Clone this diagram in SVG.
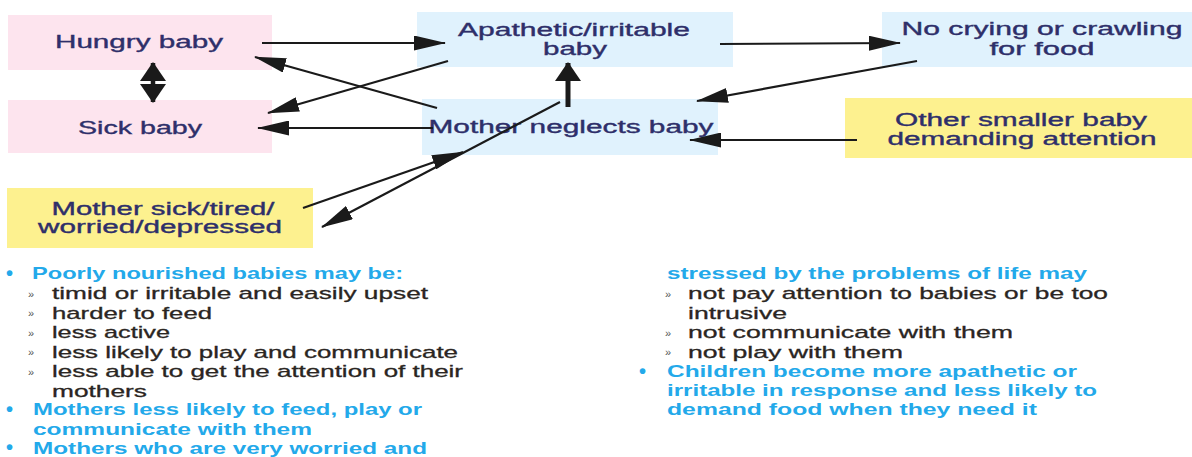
<svg xmlns="http://www.w3.org/2000/svg" width="1192" height="457" viewBox="0 0 1192 457">
<style>
.pink{fill:#fde4ee}
.blue{fill:#e0f2fd}
.yel{fill:#fdf18f}
.nt{font-family:"Liberation Sans",Arial,sans-serif;font-size:17.5px;fill:#2e2f6a;stroke:#2e2f6a;stroke-width:0.35;text-anchor:middle}
.h{font-family:"Liberation Sans",Arial,sans-serif;font-size:16.5px;font-weight:bold;fill:#23a9ea}
.s{font-family:"Liberation Sans",Arial,sans-serif;font-size:17px;fill:#2a2522;stroke:#2a2522;stroke-width:0.3}
.bul{font-family:"Liberation Sans",Arial,sans-serif;font-size:20px;font-weight:bold;fill:#23a9ea}
.rq{font-family:"Liberation Sans",Arial,sans-serif;font-size:11px;fill:#555}
.c{stroke:#1a1a1a;stroke-width:2.2;fill:none;marker-end:url(#ah)}
</style>
<defs>
<marker id="ah" markerUnits="userSpaceOnUse" markerWidth="32" markerHeight="15" viewBox="0 0 32 15" refX="31" refY="7.5" orient="auto">
<path d="M0,0 L32,7.5 L0,15 z" fill="#1a1a1a"/>
</marker>
<marker id="aw" markerUnits="userSpaceOnUse" markerWidth="19" markerHeight="26" viewBox="0 0 19 26" refX="18" refY="13" orient="auto-start-reverse">
<path d="M0,0 L19,13 L0,26 z" fill="#1a1a1a"/>
</marker>
</defs>

<g id="hungry">
<rect class="pink" x="8" y="15" width="264" height="55"/>
<text class="nt" x="139" y="48" textLength="168" lengthAdjust="spacingAndGlyphs">Hungry baby</text>
</g>
<g id="sick">
<rect class="pink" x="8" y="100" width="264" height="53"/>
<text class="nt" x="140" y="134" textLength="124" lengthAdjust="spacingAndGlyphs">Sick baby</text>
</g>
<g id="apathetic">
<rect class="blue" x="417" y="12" width="316" height="55"/>
<text class="nt" x="574" y="36" textLength="232" lengthAdjust="spacingAndGlyphs">Apathetic/irritable</text>
<text class="nt" x="575" y="55" textLength="64" lengthAdjust="spacingAndGlyphs">baby</text>
</g>
<g id="nocrying">
<rect class="blue" x="882" y="12" width="310" height="55"/>
<text class="nt" x="1042" y="35" textLength="281" lengthAdjust="spacingAndGlyphs">No crying or crawling</text>
<text class="nt" x="1042" y="55" textLength="105" lengthAdjust="spacingAndGlyphs">for food</text>
</g>
<g id="neglects">
<rect class="blue" x="422" y="99" width="296" height="56"/>
<text class="nt" x="571" y="133" textLength="285" lengthAdjust="spacingAndGlyphs">Mother neglects baby</text>
</g>
<g id="othersmaller">
<rect class="yel" x="845" y="98" width="347" height="60"/>
<text class="nt" x="1021" y="126" textLength="252" lengthAdjust="spacingAndGlyphs">Other smaller baby</text>
<text class="nt" x="1022" y="145" textLength="269" lengthAdjust="spacingAndGlyphs">demanding attention</text>
</g>
<g id="mothersick">
<rect class="yel" x="7" y="188" width="306" height="60"/>
<text class="nt" x="163" y="215" textLength="223" lengthAdjust="spacingAndGlyphs">Mother sick/tired/</text>
<text class="nt" x="160" y="233" textLength="244" lengthAdjust="spacingAndGlyphs">worried/depressed</text>
</g>

<g id="connectors">
<line class="c" x1="262" y1="43" x2="445" y2="43"/>
<line x1="153" y1="63" x2="153" y2="102" stroke="#1a1a1a" stroke-width="4.5" marker-start="url(#aw)" marker-end="url(#aw)"/>
<line class="c" x1="437" y1="108" x2="255" y2="57"/>
<line class="c" x1="448" y1="61" x2="268" y2="113"/>
<line class="c" x1="433" y1="128" x2="258" y2="128"/>
<line x1="568" y1="107" x2="568" y2="63" stroke="#1a1a1a" stroke-width="5" marker-end="url(#aw)"/>
<line class="c" x1="303" y1="208" x2="463" y2="152"/>
<line class="c" x1="560" y1="102" x2="322" y2="227"/>
<line class="c" x1="720" y1="44" x2="900" y2="43"/>
<line class="c" x1="917" y1="61" x2="697" y2="101"/>
<line class="c" x1="857" y1="140" x2="690" y2="140"/>
</g>

<g id="text-left">
<text class="bul" x="6" y="280">•</text>
<text class="h" x="32" y="279" textLength="371" lengthAdjust="spacingAndGlyphs">Poorly nourished babies may be:</text>
<text class="rq" x="28" y="297.5">»</text>
<text class="s" x="52" y="299" textLength="376" lengthAdjust="spacingAndGlyphs">timid or irritable and easily upset</text>
<text class="rq" x="28" y="317">»</text>
<text class="s" x="52" y="318.5" textLength="160" lengthAdjust="spacingAndGlyphs">harder to feed</text>
<text class="rq" x="28" y="336.5">»</text>
<text class="s" x="52" y="338" textLength="118" lengthAdjust="spacingAndGlyphs">less active</text>
<text class="rq" x="28" y="356">»</text>
<text class="s" x="52" y="357.5" textLength="406" lengthAdjust="spacingAndGlyphs">less likely to play and communicate</text>
<text class="rq" x="28" y="375.5">»</text>
<text class="s" x="52" y="377" textLength="411" lengthAdjust="spacingAndGlyphs">less able to get the attention of their</text>
<text class="s" x="52" y="396.5" textLength="95" lengthAdjust="spacingAndGlyphs">mothers</text>
<text class="bul" x="6" y="416">•</text>
<text class="h" x="33" y="415" textLength="389" lengthAdjust="spacingAndGlyphs">Mothers less likely to feed, play or</text>
<text class="h" x="33" y="434.5" textLength="279" lengthAdjust="spacingAndGlyphs">communicate with them</text>
<text class="bul" x="6" y="454">•</text>
<text class="h" x="33" y="454" textLength="394" lengthAdjust="spacingAndGlyphs">Mothers who are very worried and</text>
</g>

<g id="text-right">
<text class="h" x="667" y="279" textLength="420" lengthAdjust="spacingAndGlyphs">stressed by the problems of life may</text>
<text class="rq" x="665" y="297.5">»</text>
<text class="s" x="688" y="299" textLength="420" lengthAdjust="spacingAndGlyphs">not pay attention to babies or be too</text>
<text class="s" x="688" y="318.5" textLength="99" lengthAdjust="spacingAndGlyphs">intrusive</text>
<text class="rq" x="665" y="336.5">»</text>
<text class="s" x="688" y="338" textLength="325" lengthAdjust="spacingAndGlyphs">not communicate with them</text>
<text class="rq" x="665" y="356">»</text>
<text class="s" x="688" y="357.5" textLength="215" lengthAdjust="spacingAndGlyphs">not play with them</text>
<text class="bul" x="639" y="377.5">•</text>
<text class="h" x="667" y="376.5" textLength="410" lengthAdjust="spacingAndGlyphs">Children become more apathetic or</text>
<text class="h" x="667" y="396" textLength="430" lengthAdjust="spacingAndGlyphs">irritable in response and less likely to</text>
<text class="h" x="667" y="415" textLength="370" lengthAdjust="spacingAndGlyphs">demand food when they need it</text>
</g>
</svg>
